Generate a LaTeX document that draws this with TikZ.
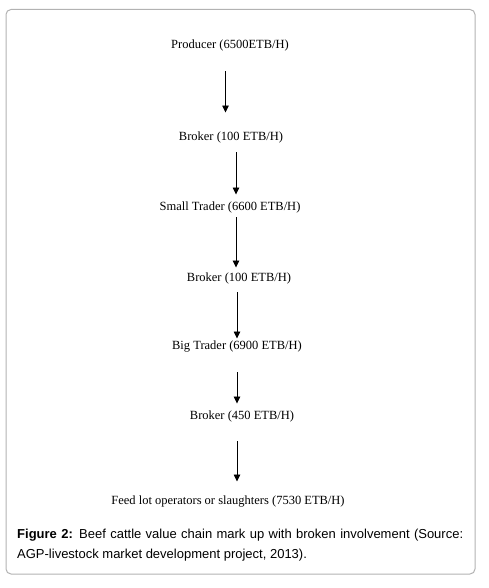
\documentclass[tikz,border=0pt]{standalone}
\usepackage{fontspec}
\setmainfont{Liberation Serif}
\newfontfamily\capfont{Liberation Sans}
\usetikzlibrary{arrows.meta, positioning}

\begin{document}
\begin{tikzpicture}[x=1pt, y=-1pt, >={Triangle[length=7pt,width=6.5pt]},
    stage/.style={inner sep=0pt, font=\fontsize{12.5}{14}\selectfont},
    link/.style={->, line width=0.8pt}]
    \useasboundingbox (0,0) rectangle (488,588);
    \draw[gray!60, line width=1pt, rounded corners=5pt] (6,9.5) rectangle (475,574);
    % chain
    \node[stage] (prod) at (230,45) {Producer (6500ETB/H)};
    \node[stage] (brk1) at (231,137) {Broker (100 ETB/H)};
    \node[stage] (small) at (230,207) {Small Trader (6600 ETB/H)};
    \node[stage] (brk2) at (239,278) {Broker (100 ETB/H)};
    \node[stage] (big) at (237,347) {Big Trader (6900 ETB/H)};
    \node[stage] (brk3) at (242,416) {Broker (450 ETB/H)};
    \node[stage] (feed) at (228,502) {Feed lot operators or slaughters (7530 ETB/H)};
    % arrows
    \draw[link, shorten <=20.6pt, shorten >=18.6pt] ([xshift=-4.5pt]prod.south) -- ([xshift=-5.5pt]brk1.north);
    \draw[link, shorten <=9.6pt, shorten >=6.6pt] ([xshift=5pt]brk1.south) -- ([xshift=6pt]small.north);
    \draw[link, shorten <=4.6pt, shorten >=4.6pt] ([xshift=6pt]small.south) -- ([xshift=-3pt]brk2.north);
    \draw[link, shorten <=8.6pt, shorten >=2.6pt] ([xshift=-2pt]brk2.south) -- (big.north);
    \draw[link, shorten <=19.6pt, shorten >=6.6pt] (big.south) -- ([xshift=-5pt]brk3.north);
    \draw[link, shorten <=19.6pt, shorten >=14.6pt] ([xshift=-5pt]brk3.south) -- ([xshift=9pt]feed.north);
    % caption
    \node[anchor=north west, inner sep=0pt, text width=446pt, align=justify,
        font=\capfont\fontsize{13}{20}\selectfont] (cap) at (17,529)
        {\textbf{Figure 2:} Beef cattle value chain mark up with broken involvement (Source: AGP-livestock market development project, 2013).};
\end{tikzpicture}
\end{document}
